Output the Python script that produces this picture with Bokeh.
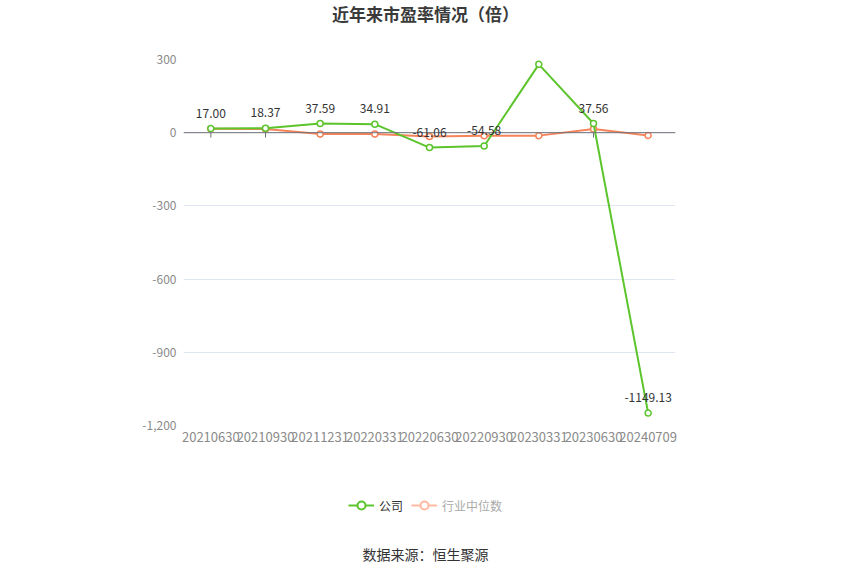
from bokeh.core.properties import value
from bokeh.embed import file_html
from bokeh.layouts import column
from bokeh.models import (ColumnDataSource, FixedTicker, Label, LabelSet, Legend,
                          LegendItem, NumeralTickFormatter, Range1d, Span)
from bokeh.plotting import figure
from bokeh.resources import INLINE

FONT = "Noto Sans CJK SC"
GREEN = "#5cc42c"
ORANGE = "#f6845a"

TITLE = "近年来市盈率情况（倍）"
SOURCE_TEXT = "数据来源：恒生聚源"
CATEGORIES = ["20210630", "20210930", "20211231", "20220331", "20220630",
              "20220930", "20230331", "20230630", "20240709"]
COMPANY = [17.00, 18.37, 37.59, 34.91, -61.06, -54.58, 280.12, 37.56, -1149.13]
INDUSTRY = [16.0, 15.0, -5.0, -5.0, -16.0, -13.0, -12.0, 15.0, -11.0]
Y_TICKS = [300, 0, -300, -600, -900, -1200]

WIDTH = 840
HEAD_H = 30
MAIN_H = 440
FOOT_H = 100
LEFT = 183
RIGHT = 675


def blank_figure(height):
    # same side borders as the chart, so the column keeps the frames aligned;
    # x data units equal page pixels
    f = figure(width=WIDTH, height=height, output_backend="svg", toolbar_location=None,
               x_range=Range1d(LEFT, RIGHT), y_range=Range1d(0, height),
               x_axis_location=None, y_axis_location=None,
               min_border_left=LEFT, min_border_right=WIDTH - RIGHT,
               min_border_top=0, min_border_bottom=0)
    f.outline_line_color = None
    f.xgrid.grid_line_color = None
    f.ygrid.grid_line_color = None
    return f


xs = list(range(len(CATEGORIES)))
src = ColumnDataSource(data=dict(
    x=xs, company=COMPANY, industry=INDUSTRY,
    label=['%.2f' % v for v in COMPANY],
))

# header with the title
head = blank_figure(HEAD_H)
head.add_layout(Label(x=425, y=17, text=TITLE, text_align="center", text_baseline="middle",
                      text_font=FONT, text_font_size="17px", text_font_style="bold",
                      text_color="#3a3a3a"))

# main chart
p = figure(width=WIDTH, height=MAIN_H, output_backend="svg", toolbar_location=None,
           x_range=Range1d(-0.5, len(CATEGORIES) - 0.5),
           y_range=Range1d(min(Y_TICKS), max(Y_TICKS)),
           min_border_left=LEFT, min_border_right=WIDTH - RIGHT,
           min_border_top=29, min_border_bottom=45)
p.outline_line_color = None

p.xgrid.grid_line_color = None
p.ygrid.grid_line_color = "#e0e6f1"
p.ygrid.ticker = FixedTicker(ticks=Y_TICKS)

p.yaxis.ticker = FixedTicker(ticks=Y_TICKS)
p.yaxis.formatter = NumeralTickFormatter(format="0,0")
p.yaxis.axis_line_color = None
p.yaxis.major_tick_line_color = None
p.yaxis.major_tick_out = 0
p.yaxis.minor_tick_line_color = None
p.yaxis.major_label_text_color = "#8a8a8a"
p.yaxis.major_label_text_font = FONT
p.yaxis.major_label_text_font_size = "12px"
p.yaxis.major_label_standoff = 7

p.xaxis.ticker = FixedTicker(ticks=xs)
p.xaxis.major_label_overrides = {i: c for i, c in enumerate(CATEGORIES)}
p.xaxis.axis_line_color = None
p.xaxis.major_tick_line_color = None
p.xaxis.major_tick_out = 0
p.xaxis.minor_tick_line_color = None
p.xaxis.major_label_text_color = "#8a8a8a"
p.xaxis.major_label_text_font = FONT
p.xaxis.major_label_text_font_size = "13px"
p.xaxis.major_label_standoff = 6

# category axis line sits on zero
p.add_layout(Span(location=0, dimension="width", line_color="#6e7079", line_width=1))
p.segment(x0='x', y0=0, x1='x', y1=-20, source=src, line_color="#6e7079", line_width=1)

p.line('x', 'industry', source=src, line_color=ORANGE, line_width=2)
p.scatter('x', 'industry', source=src, size=6, marker="circle", fill_color="white",
          line_color=ORANGE, line_width=1.5)
p.line('x', 'company', source=src, line_color=GREEN, line_width=2)
p.scatter('x', 'company', source=src, size=6, marker="circle", fill_color="white",
          line_color=GREEN, line_width=1.5)

p.add_layout(LabelSet(x='x', y='company', text='label', source=src, y_offset=11,
                      text_align="center", text_baseline="bottom",
                      text_font=value(FONT), text_font_size="12px", text_color="#333333"))

# footer: legend and source
foot = blank_figure(FOOT_H)
# one point far outside the view so the legend has something to draw from
offview = ColumnDataSource(data=dict(x=[-9999], y=[-9999]))
l1 = foot.line('x', 'y', source=offview, line_color=GREEN, line_width=2)
s1 = foot.scatter('x', 'y', source=offview, size=10, marker="circle", fill_color="white",
                  line_color=GREEN, line_width=2)
l2 = foot.line('x', 'y', source=offview, line_color="#ffb9a0", line_width=2)
s2 = foot.scatter('x', 'y', source=offview, size=10, marker="circle", fill_color="white",
                  line_color="#ffb9a0", line_width=2)

for items, loc, color in [([LegendItem(label="公司", renderers=[l1, s1])], (348 - LEFT, 55), "#333333"),
                          ([LegendItem(label="行业中位数", renderers=[l2, s2])], (411 - LEFT, 55), "#aaaaaa")]:
    lg = Legend(items=items, location=loc, padding=0, margin=0, border_line_color=None,
                background_fill_alpha=0, glyph_width=26, glyph_height=20, label_height=20,
                label_standoff=5, label_text_font=FONT, label_text_font_size="12px",
                label_text_color=color)
    foot.add_layout(lg)

foot.add_layout(Label(x=425, y=17, text=SOURCE_TEXT, text_align="center",
                      text_baseline="middle", text_font=FONT, text_font_size="14px",
                      text_color="#333333"))

layout = column(head, p, foot, spacing=0)
open("out.html", "w").write(file_html(layout, INLINE))
